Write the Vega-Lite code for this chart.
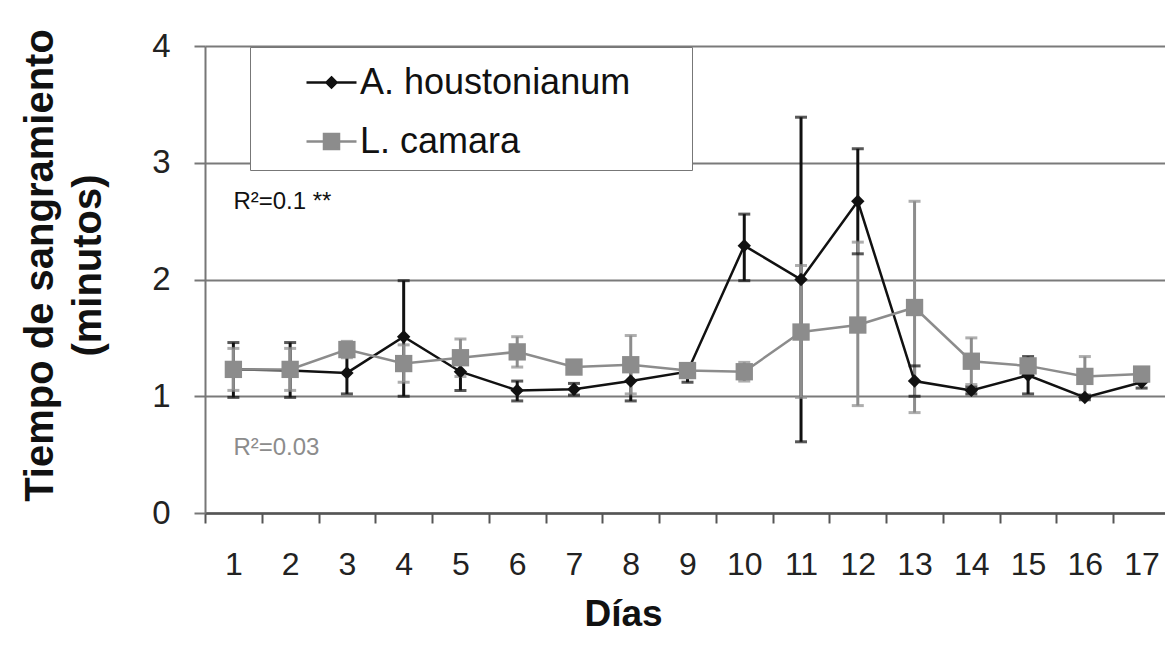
{
  "$schema": "https://vega.github.io/schema/vega-lite/v6.json",
  "width": 960,
  "height": 467,
  "autosize": {"type": "none"},
  "padding": {"left": 205, "top": 46, "right": 0, "bottom": 133},
  "background": "white",
  "config": {
    "font": "Liberation Sans",
    "view": {"stroke": null},
    "legend": {
      "orient": "none",
      "labelFont": "Liberation Sans",
      "labelFontSize": 36,
      "labelColor": "#111111",
      "labelLimit": 600,
      "symbolSize": 2500,
      "symbolStrokeWidth": 2.5,
      "symbolOpacity": 1,
      "symbolOffset": 46,
      "labelOffset": 2,
      "rowPadding": 15
    }
  },
  "datasets": {
    "series": [
      {"dia": 1, "serie": "A. houstonianum", "media": 1.23, "lo": 0.99, "hi": 1.46},
      {"dia": 2, "serie": "A. houstonianum", "media": 1.22, "lo": 0.99, "hi": 1.46},
      {"dia": 3, "serie": "A. houstonianum", "media": 1.20, "lo": 1.02, "hi": 1.38},
      {"dia": 4, "serie": "A. houstonianum", "media": 1.51, "lo": 1.00, "hi": 1.99},
      {"dia": 5, "serie": "A. houstonianum", "media": 1.21, "lo": 1.05, "hi": 1.37},
      {"dia": 6, "serie": "A. houstonianum", "media": 1.05, "lo": 0.96, "hi": 1.13},
      {"dia": 7, "serie": "A. houstonianum", "media": 1.06, "lo": 1.01, "hi": 1.11},
      {"dia": 8, "serie": "A. houstonianum", "media": 1.13, "lo": 0.96, "hi": 1.30},
      {"dia": 9, "serie": "A. houstonianum", "media": 1.21, "lo": 1.12, "hi": 1.27},
      {"dia": 10, "serie": "A. houstonianum", "media": 2.29, "lo": 1.99, "hi": 2.56},
      {"dia": 11, "serie": "A. houstonianum", "media": 2.00, "lo": 0.61, "hi": 3.39},
      {"dia": 12, "serie": "A. houstonianum", "media": 2.67, "lo": 2.22, "hi": 3.12},
      {"dia": 13, "serie": "A. houstonianum", "media": 1.13, "lo": 1.00, "hi": 1.26},
      {"dia": 14, "serie": "A. houstonianum", "media": 1.05, "lo": 1.02, "hi": 1.08},
      {"dia": 15, "serie": "A. houstonianum", "media": 1.18, "lo": 1.02, "hi": 1.34},
      {"dia": 16, "serie": "A. houstonianum", "media": 0.99, "lo": 0.97, "hi": 1.01},
      {"dia": 17, "serie": "A. houstonianum", "media": 1.12, "lo": 1.07, "hi": 1.17},
      {"dia": 1, "serie": "L. camara", "media": 1.23, "lo": 1.05, "hi": 1.41},
      {"dia": 2, "serie": "L. camara", "media": 1.23, "lo": 1.05, "hi": 1.41},
      {"dia": 3, "serie": "L. camara", "media": 1.40, "lo": 1.33, "hi": 1.47},
      {"dia": 4, "serie": "L. camara", "media": 1.28, "lo": 1.12, "hi": 1.44},
      {"dia": 5, "serie": "L. camara", "media": 1.33, "lo": 1.17, "hi": 1.49},
      {"dia": 6, "serie": "L. camara", "media": 1.38, "lo": 1.25, "hi": 1.51},
      {"dia": 7, "serie": "L. camara", "media": 1.25, "lo": 1.20, "hi": 1.30},
      {"dia": 8, "serie": "L. camara", "media": 1.27, "lo": 1.02, "hi": 1.52},
      {"dia": 9, "serie": "L. camara", "media": 1.22, "lo": 1.16, "hi": 1.28},
      {"dia": 10, "serie": "L. camara", "media": 1.21, "lo": 1.13, "hi": 1.29},
      {"dia": 11, "serie": "L. camara", "media": 1.55, "lo": 0.99, "hi": 2.12},
      {"dia": 12, "serie": "L. camara", "media": 1.61, "lo": 0.92, "hi": 2.32},
      {"dia": 13, "serie": "L. camara", "media": 1.76, "lo": 0.86, "hi": 2.67},
      {"dia": 14, "serie": "L. camara", "media": 1.30, "lo": 1.10, "hi": 1.50},
      {"dia": 15, "serie": "L. camara", "media": 1.26, "lo": 1.20, "hi": 1.32},
      {"dia": 16, "serie": "L. camara", "media": 1.17, "lo": 1.00, "hi": 1.34},
      {"dia": 17, "serie": "L. camara", "media": 1.19, "lo": 1.14, "hi": 1.24}
    ],
    "notas": [
      {"dia": 1, "serie": "A. houstonianum", "valor": 2.66, "texto": "R²=0.1 **"},
      {"dia": 1, "serie": "L. camara", "valor": 0.56, "texto": "R²=0.03"}
    ]
  },
  "data": {"name": "series"},
  "encoding": {
    "x": {
      "field": "dia",
      "type": "ordinal",
      "scale": {"type": "band", "paddingInner": 0, "paddingOuter": 0, "range": [0, 965]},
      "axis": {
        "title": "Días",
        "titleFont": "Liberation Sans",
        "titleFontSize": 37,
        "titleFontWeight": "bold",
        "titleColor": "#111111",
        "titleX": 418,
        "titleY": 112,
        "titleAlign": "center",
        "titleBaseline": "alphabetic",
        "labelAngle": 0,
        "labelFontSize": 32,
        "labelColor": "#222222",
        "labelPadding": 26,
        "tickBand": "extent",
        "tickSize": 10,
        "tickWidth": 2,
        "tickColor": "#555555",
        "domainColor": "#555555",
        "domainWidth": 2.5,
        "grid": false
      }
    }
  },
  "layer": [
    {
      "mark": {"type": "rule", "strokeWidth": 3},
      "encoding": {
        "y": {
          "field": "lo",
          "type": "quantitative",
          "scale": {"domain": [0, 4], "nice": false, "zero": false},
          "axis": {
            "values": [0, 1, 2, 3, 4],
            "format": "d",
            "grid": true,
            "gridColor": "#7a7a7a",
            "gridWidth": 2,
            "domainColor": "#777777",
            "domainWidth": 2,
            "tickColor": "#777777",
            "tickWidth": 2,
            "tickSize": 11,
            "labelFontSize": 33,
            "labelColor": "#222222",
            "labelPadding": 24,
            "title": ["Tiempo de sangramiento", "(minutos)"],
            "titleFont": "Liberation Sans",
            "titleFontSize": 40,
            "titleFontWeight": "bold",
            "titleColor": "#111111",
            "titleLineHeight": 48,
            "titleAngle": -90,
            "titleX": -153,
            "titleY": 219,
            "titleAlign": "center",
            "titleBaseline": "alphabetic"
          }
        },
        "y2": {"field": "hi"},
        "color": {
          "field": "serie",
          "type": "nominal",
          "scale": {"domain": ["A. houstonianum", "L. camara"], "range": ["#111111", "#8c8c8c"]},
          "legend": null
        }
      }
    },
    {
      "mark": {"type": "tick", "thickness": 3, "size": 12},
      "encoding": {
        "y": {"field": "hi", "type": "quantitative"},
        "color": {"field": "serie", "type": "nominal", "legend": null}
      }
    },
    {
      "mark": {"type": "tick", "thickness": 3, "size": 12},
      "encoding": {
        "y": {"field": "lo", "type": "quantitative"},
        "color": {"field": "serie", "type": "nominal", "legend": null}
      }
    },
    {
      "mark": {"type": "line", "strokeWidth": 2.5},
      "encoding": {
        "y": {"field": "media", "type": "quantitative"},
        "color": {"field": "serie", "type": "nominal", "legend": null}
      }
    },
    {
      "mark": {"type": "point", "filled": true, "opacity": 1},
      "encoding": {
        "y": {"field": "media", "type": "quantitative"},
        "color": {"field": "serie", "type": "nominal", "legend": null},
        "shape": {
          "field": "serie",
          "type": "nominal",
          "scale": {"domain": ["A. houstonianum", "L. camara"], "range": ["diamond", "square"]},
          "legend": null
        },
        "size": {
          "field": "serie",
          "type": "nominal",
          "scale": {"domain": ["A. houstonianum", "L. camara"], "range": [180, 300]},
          "legend": null
        }
      }
    },
    {
      "data": {"name": "notas"},
      "mark": {"type": "text", "align": "left", "baseline": "middle", "fontSize": 24, "font": "Liberation Sans"},
      "encoding": {
        "y": {"field": "valor", "type": "quantitative"},
        "text": {"field": "texto"},
        "color": {"field": "serie", "type": "nominal", "legend": null}
      }
    },
    {
      "transform": [{"filter": "datum.dia > 100"}],
      "mark": {"type": "point", "filled": true, "opacity": 1, "fill": "#111111", "stroke": "#111111", "strokeWidth": 2.5},
      "encoding": {
        "y": {"field": "media", "type": "quantitative"},
        "shape": {
          "field": "serie",
          "type": "nominal",
          "scale": {
            "domain": ["A. houstonianum\u2800\u2800", "L. camara"],
            "range": ["M-1,0H1M0,-0.2L0.2,0L0,0.2L-0.2,0Z", "M-1,0H1M-0.3,-0.3H0.3V0.3H-0.3Z"]
          },
          "legend": {
            "title": null,
            "legendX": 45,
            "legendY": 1,
            "padding": 9,
            "strokeColor": "#777777",
            "fillColor": "white"
          }
        }
      }
    },
    {
      "transform": [{"filter": "datum.dia > 100"}],
      "mark": {"type": "point", "filled": true, "opacity": 1, "fill": "#8c8c8c", "stroke": "#8c8c8c", "strokeWidth": 2.5},
      "encoding": {
        "y": {"field": "media", "type": "quantitative"},
        "shape": {
          "field": "serie",
          "type": "nominal",
          "scale": {
            "domain": ["L. camara"],
            "range": ["M-1,0H1M-0.3,-0.3H0.3V0.3H-0.3Z"]
          },
          "legend": {
            "title": null,
            "legendX": 54,
            "legendY": 69,
            "padding": 0,
            "strokeColor": null,
            "fillColor": "white"
          }
        }
      }
    }
  ],
  "resolve": {"scale": {"shape": "independent", "size": "independent"}}
}
